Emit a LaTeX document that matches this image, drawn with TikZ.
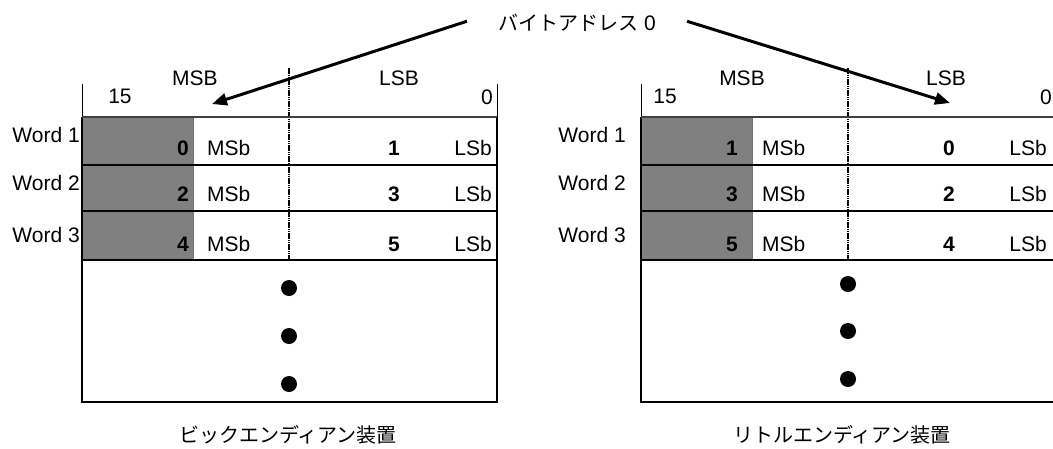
\documentclass[tikz,border=0pt]{standalone}
\usepackage{fontspec}
\setmainfont{Liberation Sans}
\newfontfamily\jpfont{Noto Sans CJK JP}
\usetikzlibrary{arrows.meta}
\definecolor{boxgray}{RGB}{128,128,128}
\tikzset{
  lbl/.style={font=\fontsize{21}{25}\selectfont, inner sep=0pt, anchor=base},
  num/.style={font=\fontsize{21}{25}\selectfont\bfseries, inner sep=0pt, anchor=base east},
  jlbl/.style={font=\jpfont\fontsize{20}{24}\selectfont, inner sep=0pt, anchor=base},
  sepline/.style={line width=2.4pt},
  topline/.style={line width=1.6pt, draw=black!75},
  frameline/.style={line width=1.8pt},
  tickline/.style={line width=1pt},
  midline/.style={line width=1.1pt, dash pattern=on 1.5pt off 0.7pt, draw=black},
  dotmark/.style={circle, fill=black, minimum size=16pt, inner sep=0pt},
  arr/.style={line width=3pt, -{Triangle[length=15pt,width=12pt]}},
}
% panel drawing: #1 name prefix, #2 digit pairs, #3 caption
\newcommand\zzpanel[3]{%
  \fill[boxgray] (\zzL,117) rectangle ({\zzL+111},260);
  \draw[line width=0.8pt, draw=black!55] ({\zzL+111},117) -- ({\zzL+111},260);
  \draw[midline] ({\zzL+207},68) -- ({\zzL+207},260);
  \draw[tickline] (\zzL,84) -- (\zzL,117);
  \draw[tickline] ({\zzL+415},84) -- ({\zzL+415},117);
  \draw[frameline] (\zzL,117) -- (\zzL,402) -- ({\zzL+415},402) -- ({\zzL+415},117);
  \draw[topline] (\zzL,117) -- ({\zzL+415},117);
  \foreach \y in {165,211,260} \draw[sepline] (\zzL,\y) -- ({\zzL+415},\y);
  \node[lbl] (#1msb) at (\zzMSB,85) {MSB};
  \node[lbl] (#1lsb) at (\zzLSB,85) {LSB};
  \node[lbl] (#1hi) at (\zzHi,103) {15};
  \node[lbl, anchor=base east] (#1lo) at ({\zzL+411},104) {0};
  \foreach \a/\b [count=\i] in {#2} {
    \pgfmathsetmacro\yb{{155,201,251}[\i-1]}
    \pgfmathsetmacro\yw{{142,190,242}[\i-1]}
    \node[lbl, anchor=base east] (#1w\i) at (\zzWord,\yw) {Word \i};
    \node[num] (#1m\i) at (\zzDig,\yb) {\a};
    \node[lbl, anchor=base west] (#1ms\i) at (\zzMSb,\yb) {MSb};
    \node[num, anchor=base] (#1l\i) at (\zzLo,\yb) {\b};
    \node[lbl, anchor=base east] (#1ls\i) at (\zzLSb,\yb) {LSb};
  }
  \foreach \y [count=\k] in \zzDots {\node[dotmark] (#1d\k) at ({\zzL+207},\y) {};}
  \node[jlbl] (#1cap) at (\zzCap,442) {#3};
}
\begin{document}
\begin{tikzpicture}[x=1pt,y=-1pt]
\useasboundingbox (0,0) rectangle (1053,448);
\clip (0,0) rectangle (1053,448);
% left panel (big endian)
\def\zzL{82}\def\zzMSB{195}\def\zzLSB{399}\def\zzHi{120}\def\zzWord{80}
\def\zzDig{189}\def\zzMSb{207}\def\zzLo{394}\def\zzLSb{492}
\def\zzDots{288,336,384}\def\zzCap{288}
\zzpanel{b}{0/1,2/3,4/5}{ビックエンディアン装置}
% right panel (little endian)
\def\zzL{641}\def\zzMSB{742}\def\zzLSB{946}\def\zzHi{665}\def\zzWord{626}
\def\zzDig{738}\def\zzMSb{762}\def\zzLo{949}\def\zzLSb{1047}
\def\zzDots{284,331,379}\def\zzCap{842}
\zzpanel{l}{1/0,3/2,5/4}{リトルエンディアン装置}
% title and arrows
\node[jlbl, inner xsep=31pt] (title) at (577,30) {バイトアドレス\hspace{6pt}{\fontsize{21}{25}\selectfont\rmfamily 0}};
\coordinate (tipL) at (212,104);
\coordinate (tipR) at (950,103);
\draw[arr] ([yshift=1pt]title.west) -- (tipL);
\draw[arr] ([yshift=1pt]title.east) -- (tipR);
\end{tikzpicture}
\end{document}
